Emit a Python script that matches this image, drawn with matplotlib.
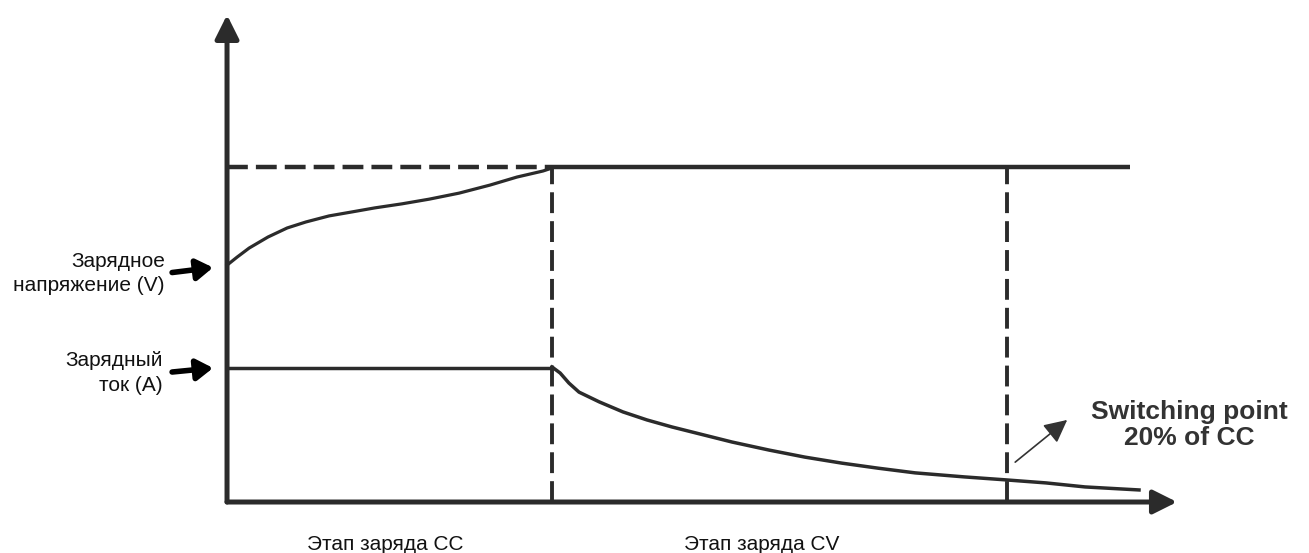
import numpy as np
import matplotlib
matplotlib.use('Agg')
import matplotlib.pyplot as plt

# CC/CV charge diagram, arbitrary units (time t, level v)
t_cc_end = 10.0
t_switch = 24.0
v_top = 10.0            # CV voltage level
i_cc = 4.0              # CC current level

# voltage during CC stage
volt_t = [0.0, 0.31, 0.68, 1.26, 1.85, 2.43, 3.14, 3.85, 4.55, 5.38, 6.22,
          7.14, 8.09, 8.92, 9.72, 10.0]
volt_v = [7.07, 7.31, 7.58, 7.91, 8.18, 8.36, 8.54, 8.66, 8.78, 8.90, 9.04,
          9.22, 9.46, 9.70, 9.88, 9.97]

# current during CV stage
cur_t = [10.0, 10.25, 10.52, 10.83, 11.45, 12.18, 12.92, 13.69, 14.43, 15.54,
         16.68, 17.78, 18.92, 20.03, 21.17, 22.68, 23.97, 25.2, 26.4, 28.06]
cur_v = [4.03, 3.85, 3.55, 3.28, 2.99, 2.69, 2.45, 2.24, 2.06, 1.79,
         1.55, 1.34, 1.16, 1.01, 0.87, 0.75, 0.66, 0.57, 0.45, 0.36]

t_line_end = 27.78
t_axis_end = 29.23
v_axis_end = 14.54

label_v = 'Зарядное\nнапряжение (V)'
label_i = 'Зарядный\nток (А)'
stage_labels = ['Этап заряда CC', 'Этап заряда CV']
stage_x = [4.86, 16.45]
switch_label = 'Switching point\n20% of CC'

plt.rcParams['font.family'] = ['Liberation Sans', 'DejaVu Sans']
plt.rcParams['lines.scale_dashes'] = False

fig = plt.figure(figsize=(13.09, 5.53), dpi=100)
ax = fig.add_axes([0, 0, 1, 1])
ax.set_xlim(-6.985, 33.29)
ax.set_ylim(-1.522, 14.985)
ax.axis('off')

dark = '#2b2b2b'
dash = (0, (15, 5.8))

# axes with arrow heads
arrow_kw = dict(arrowstyle='-|>,head_length=0.9,head_width=0.45', lw=3.6,
                color=dark, shrinkA=0, shrinkB=0, mutation_scale=16)
ax.annotate('', xy=(0, v_axis_end), xytext=(0, 0), arrowprops=arrow_kw)
ax.annotate('', xy=(t_axis_end, 0), xytext=(0, 0), arrowprops=arrow_kw)

# voltage: dashed reference during CC, solid during CV
ax.plot([0, t_cc_end], [v_top, v_top], color=dark, lw=3.2, linestyle=dash)
ax.plot([t_cc_end, t_line_end], [v_top, v_top], color=dark, lw=3.2,
        solid_capstyle='butt')
ax.plot(volt_t, volt_v, color=dark, lw=2.3, solid_joinstyle='round')

# current
ax.plot([0, t_cc_end], [i_cc, i_cc], color=dark, lw=2.5)
ax.plot(cur_t, cur_v, color=dark, lw=2.5, solid_joinstyle='round')

# stage separators
for tx in [t_cc_end, t_switch]:
    ax.plot([tx, tx], [0, v_top], color=dark, lw=2.8, linestyle=dash)

# left labels with arrows
ax.text(-1.91, 6.82, label_v, ha='right', va='center', multialignment='right',
        fontsize=15, linespacing=1.35, color='#111111')
ax.text(-1.97, 3.85, label_i, ha='right', va='center', multialignment='right',
        fontsize=15, linespacing=1.35, color='#111111')
small_arrow = dict(arrowstyle='-|>,head_length=0.7,head_width=0.45', lw=4,
                   color='black', shrinkA=0, shrinkB=0, mutation_scale=14)
ax.annotate('', xy=(-0.43, volt_v[0] - 0.07), xytext=(-1.69, volt_v[0] - 0.22),
            arrowprops=small_arrow)
ax.annotate('', xy=(-0.43, i_cc), xytext=(-1.69, i_cc - 0.12),
            arrowprops=small_arrow)

# stage labels
for sx, s in zip(stage_x, stage_labels):
    ax.text(sx, -1.28, s, ha='center', va='center', fontsize=15, color='#111111')

# switching point note
ax.annotate('', xy=(25.85, 2.45), xytext=(24.25, 1.19),
            arrowprops=dict(arrowstyle='-|>,head_length=1.0,head_width=0.5',
                            lw=1.2, color='#333333', shrinkA=0, shrinkB=0,
                            mutation_scale=14))
ax.text(29.6, 2.3, switch_label, ha='center', va='center', fontsize=19,
        fontweight='bold', linespacing=1.1, color='#333333')

fig.savefig('out.png', dpi=100)
